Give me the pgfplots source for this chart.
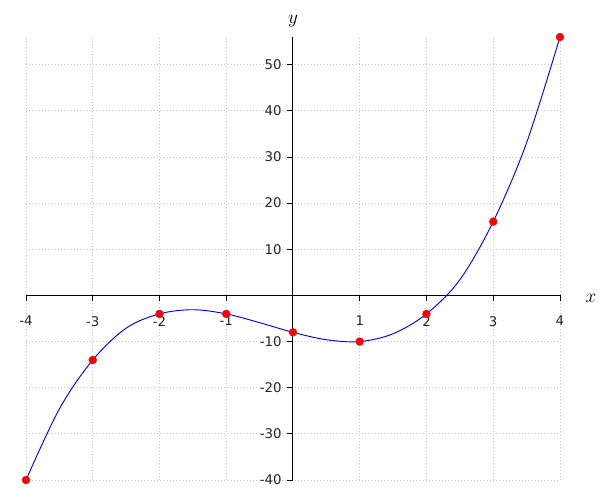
\documentclass[border=0pt]{standalone}
\usepackage{fontspec}
\setmainfont{DejaVu Sans}
\usepackage{pgfplots}
\pgfplotsset{compat=1.18}
\usetikzlibrary{calc}

\begin{document}
\begin{tikzpicture}[x=0.75pt,y=0.75pt]
  \begin{axis}[
    name=ax,
    scale only axis,
    width=400.5pt, height=332.25pt,
    xmin=-4, xmax=4, ymin=-40, ymax=56,
    axis lines=middle,
    axis line style={black, line width=0.75pt, -},
    xtick={-4,-3,-2,-1,1,2,3,4},
    ytick={-40,-30,-20,-10,10,20,30,40,50},
    xticklabels={-4,-3,-2,-1,1,2,3,4},
    yticklabels={-40,-30,-20,-10,10,20,30,40,50},
    tick align=outside,
    major tick length=4.5pt,
    tick style={black, line width=0.6pt},
    ticklabel style={font=\fontsize{10}{12}\selectfont, text=black!85},
    xticklabel style={anchor=north, yshift=-7.5pt},
    yticklabel style={anchor=east, xshift=-0.5pt},
    grid=major,
    major grid style={gray!45, dotted, line width=0.6pt},
    clip=false,
  ]
    % curve at half steps as well
    \addplot[blue, line width=0.7pt, smooth, tension=0.55] coordinates {
      (-4,-40) (-3.5,-24.6) (-3,-14) (-2.5,-7.1) (-2,-4) (-1.5,-3.1)
      (-1,-4) (-0.5,-5.9) (0,-8) (0.5,-9.6) (1,-10) (1.5,-8.3)
      (2,-4) (2.5,3.4) (3,16) (3.5,33.1) (4,56)
    };
    \addplot[only marks, mark=*, mark size=2.9pt, red, mark options={draw=red, fill=red}] coordinates {
      (-4,-40) (-3,-14) (-2,-4) (-1,-4) (0,-8) (1,-10) (2,-4) (3,16) (4,56)
    };
    \node[anchor=west, font=\Large, inner sep=0pt] at (axis cs:4,0) [xshift=19pt, yshift=-2pt] {$x$};
    \node[anchor=south, font=\Large, inner sep=0pt] at (axis cs:0,56) [yshift=7pt] {$y$};
  \end{axis}
  \pgfresetboundingbox
  \path[use as bounding box] ($(ax.south west)+(-19.5pt,-15pt)$) rectangle ($(ax.south west)+(430.5pt,360pt)$);
\end{tikzpicture}
\end{document}
